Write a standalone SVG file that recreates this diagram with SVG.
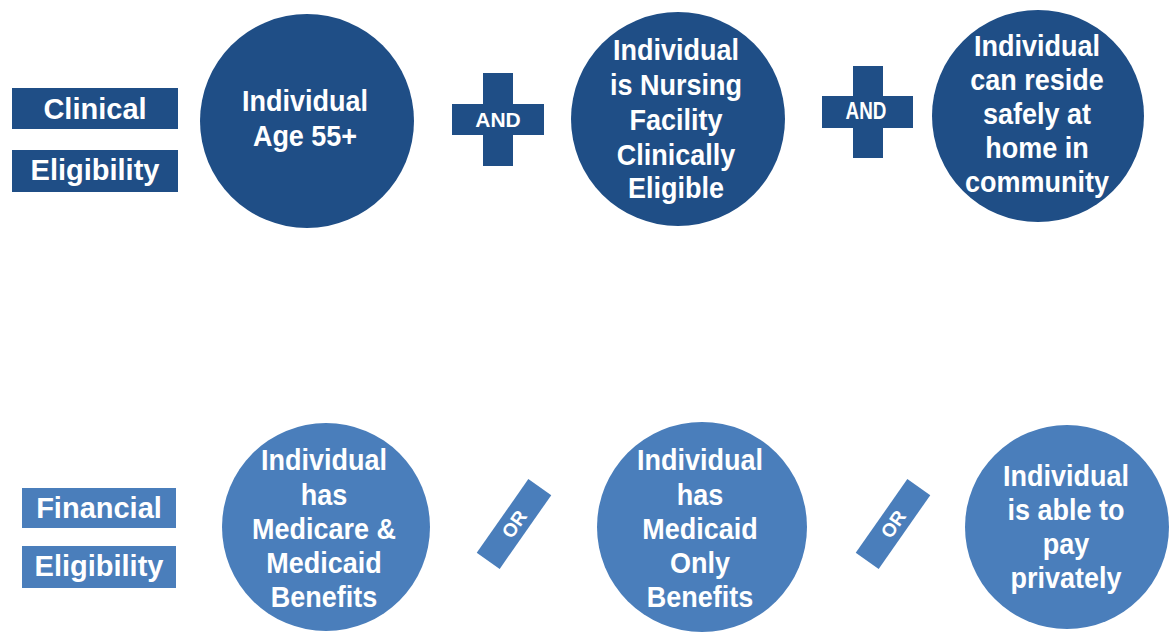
<svg xmlns="http://www.w3.org/2000/svg" width="1170" height="632" viewBox="0 0 1170 632">
<style>
.dk{fill:#1F4E86}
.lt{fill:#4A7EBB}
.lbl{font-family:"Liberation Sans",Arial,sans-serif;font-weight:bold;font-size:29px;fill:#fff;text-anchor:middle}
.ct{font-family:"Liberation Sans",Arial,sans-serif;font-weight:bold;font-size:30px;fill:#fff;text-anchor:middle}
.op{font-family:"Liberation Sans",Arial,sans-serif;font-weight:bold;font-size:21px;fill:#fff;text-anchor:middle}
</style>
<rect width="1170" height="632" fill="#fff"/>
<g id="clinical-label">
<rect class="dk" x="12" y="88" width="166" height="41"/>
<text class="lbl" x="95" y="119">Clinical</text>
<rect class="dk" x="12" y="150" width="166" height="42"/>
<text class="lbl" x="95" y="180">Eligibility</text>
</g>
<g id="financial-label">
<rect class="lt" x="22" y="488" width="154" height="40"/>
<text class="lbl" x="99" y="518">Financial</text>
<rect class="lt" x="22" y="546" width="154" height="42"/>
<text class="lbl" x="99" y="576">Eligibility</text>
</g>
<g id="age">
<circle class="dk" cx="307" cy="121" r="107"/>
<g class="ct" transform="translate(305 0) scale(0.9 1)">
<text x="0" y="111">Individual</text>
<text x="0" y="146">Age 55+</text>
</g>
</g>
<g id="and1">
<rect class="dk" x="483" y="73" width="30" height="93"/>
<rect class="dk" x="452" y="104" width="92" height="31"/>
<text class="op" x="498" y="127">AND</text>
</g>
<g id="and2">
<rect class="dk" x="853" y="66" width="30" height="92"/>
<rect class="dk" x="822" y="96" width="91" height="32"/>
<g transform="translate(866 0) scale(0.82 1)"><text class="op" x="0" y="119" style="font-size:23px">AND</text></g>
</g>
<g id="nursing">
<circle class="dk" cx="678" cy="119" r="107"/>
<g class="ct" transform="translate(676 0) scale(0.9 1)">
<text x="0" y="60">Individual</text>
<text x="0" y="95">is Nursing</text>
<text x="0" y="130">Facility</text>
<text x="0" y="165">Clinically</text>
<text x="0" y="198">Eligible</text>
</g>
</g>
<g id="home">
<circle class="dk" cx="1038" cy="116" r="106"/>
<g class="ct" transform="translate(1037 0) scale(0.9 1)">
<text x="0" y="56">Individual</text>
<text x="0" y="90">can reside</text>
<text x="0" y="124">safely at</text>
<text x="0" y="158">home in</text>
<text x="0" y="192">community</text>
</g>
</g>
<g id="dual">
<circle class="lt" cx="326" cy="527" r="104"/>
<g class="ct" transform="translate(324 0) scale(0.9 1)">
<text x="0" y="470">Individual</text>
<text x="0" y="505">has</text>
<text x="0" y="539">Medicare &amp;</text>
<text x="0" y="573">Medicaid</text>
<text x="0" y="607">Benefits</text>
</g>
</g>
<g id="or1" transform="translate(514 524) rotate(-55)">
<rect class="lt" x="-45" y="-14" width="90" height="28"/>
<text class="op" x="0" y="7" style="font-size:19px">OR</text>
</g>
<g id="medicaid">
<circle class="lt" cx="702" cy="527" r="105"/>
<g class="ct" transform="translate(700 0) scale(0.9 1)">
<text x="0" y="470">Individual</text>
<text x="0" y="505">has</text>
<text x="0" y="539">Medicaid</text>
<text x="0" y="573">Only</text>
<text x="0" y="607">Benefits</text>
</g>
</g>
<g id="or2" transform="translate(893 524) rotate(-55)">
<rect class="lt" x="-45" y="-14" width="90" height="28"/>
<text class="op" x="0" y="7" style="font-size:19px">OR</text>
</g>
<g id="private">
<circle class="lt" cx="1067" cy="527" r="102"/>
<g class="ct" transform="translate(1066 0) scale(0.9 1)">
<text x="0" y="486">Individual</text>
<text x="0" y="520">is able to</text>
<text x="0" y="554">pay</text>
<text x="0" y="588">privately</text>
</g>
</g>
<g id="connectors"/>
</svg>
